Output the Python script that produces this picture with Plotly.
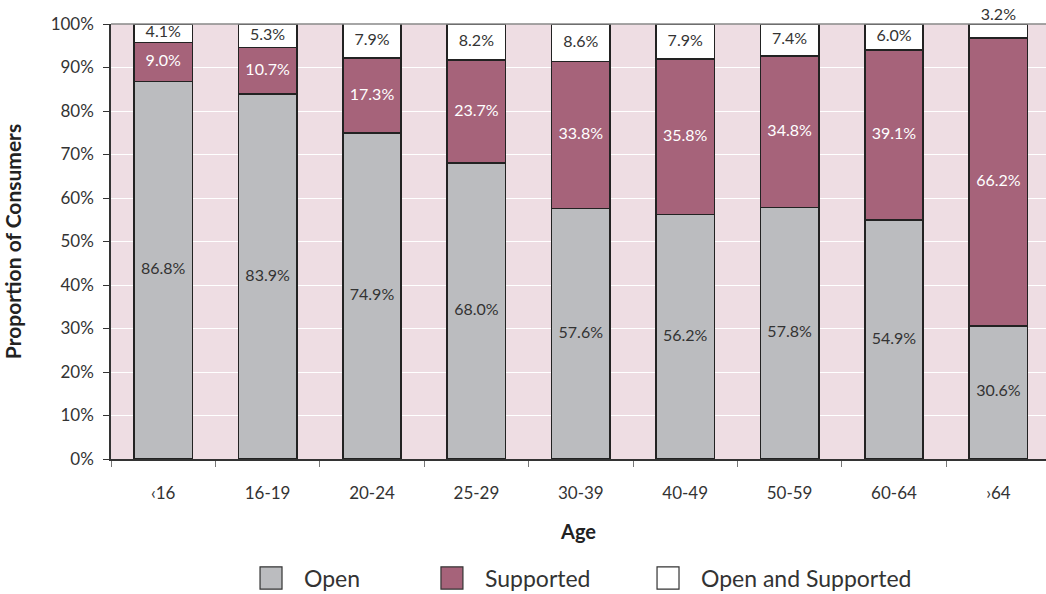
import plotly.graph_objects as go

# Data
ages = ["‹16", "16-19", "20-24", "25-29", "30-39", "40-49", "50-59", "60-64", "›64"]
open_only = [86.8, 83.9, 74.9, 68.0, 57.6, 56.2, 57.8, 54.9, 30.6]
supported = [9.0, 10.7, 17.3, 23.7, 33.8, 35.8, 34.8, 39.1, 66.2]
open_and_supported = [4.1, 5.3, 7.9, 8.2, 8.6, 7.9, 7.4, 6.0, 3.2]
y_ticks = [0, 10, 20, 30, 40, 50, 60, 70, 80, 90, 100]
y_tick_labels = ["%d%%" % t for t in y_ticks]

series = [
    ("Open", open_only, "#bbbcbf", "#333333"),
    ("Supported", supported, "#a6637a", "#ffffff"),
    ("Open and Supported", open_and_supported, "#ffffff", "#333333"),
]

FONT = "Lato"

fig = go.Figure()

# stacked bars
for name, vals, color, txtcol in series:
    fig.add_trace(go.Bar(
        x=ages, y=vals, name=name,
        marker=dict(color=color, line=dict(color="#222222", width=1.5)),
        width=0.56, showlegend=False, hoverinfo="skip",
    ))

# value labels, placed in the middle of each segment
base = [0.0] * len(ages)
for name, vals, color, txtcol in series:
    ys, pos = [], []
    for i, v in enumerate(vals):
        if v < 3.5:
            # segment too thin: put the label above the bar
            ys.append(round(min(base[i] + v, 100), 6))
            pos.append("top center")
        else:
            ys.append(round(base[i] + v / 2, 6))
            pos.append("middle center")
    fig.add_trace(go.Scatter(
        x=ages, y=ys, mode="text", text=["%.1f%%" % v for v in vals],
        textposition=pos, cliponaxis=False, showlegend=False, hoverinfo="skip",
        textfont=dict(family=FONT, size=16, color=txtcol),
    ))
    base = [b + v for b, v in zip(base, vals)]

fig.update_layout(
    barmode="stack",
    width=1046, height=594,
    margin=dict(l=111, r=0, t=24, b=135),
    paper_bgcolor="white",
    plot_bgcolor="#eedde3",
    font=dict(family=FONT, color="#333333"),
)

fig.update_yaxes(
    range=[0, 100], tickvals=y_ticks, ticktext=y_tick_labels,
    showgrid=True, gridcolor="white", gridwidth=1.2,
    showline=True, linecolor="#333333", linewidth=1.5,
    ticks="outside", ticklen=6, tickcolor="#333333",
    tickfont=dict(size=17, color="#333333"),
    ticklabelstandoff=6,
    title=dict(text="<b>Proportion of Consumers</b>", font=dict(size=21, color="#222222"), standoff=24),
    zeroline=False,
)
fig.update_xaxes(
    range=[-0.5, 8.456],
    showline=True, linecolor="#333333", linewidth=1.5,
    ticks="outside", tickson="boundaries", ticklen=6, tickcolor="#777777",
    tickfont=dict(size=17, color="#333333"),
    ticklabelstandoff=18,
    title=dict(text="<b>Age</b>", font=dict(size=20, color="#222222"), standoff=23),
)

# thin grey border across the top of the plot area
fig.add_shape(type="line", xref="paper", yref="paper", x0=0, x1=1, y0=1, y1=1,
              line=dict(color="#888888", width=1.5))

# legend drawn by hand so the swatches are as large as in the original
legend_x = [0.1594, 0.3529, 0.5840]
for (name, vals, color, txtcol), lx in zip(series, legend_x):
    fig.add_shape(type="rect", xref="paper", yref="paper",
                  x0=lx, x1=lx + 0.0235, y0=-0.299, y1=-0.248,
                  fillcolor=color, line=dict(color="#333333", width=1.2))
    fig.add_annotation(x=lx + 0.0235 + 0.021, y=-0.2735, xref="paper", yref="paper",
                       text=name, showarrow=False, xanchor="left", yanchor="middle",
                       font=dict(family=FONT, size=23, color="#333333"))

# drop the default 8px page margin so the figure sits at the window's corner
fig.write_html("out.html", config={"displayModeBar": False},
               post_script="document.body.style.margin='0';")
